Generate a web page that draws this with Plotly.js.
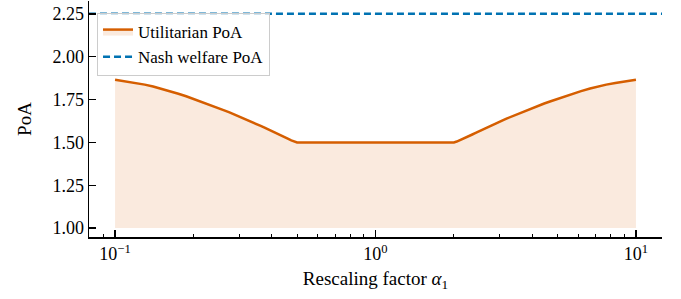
<!DOCTYPE html>
<html>
<head>
<meta charset="utf-8">
<script src="https://cdn.plot.ly/plotly-3.0.1.min.js"></script>
<style>html,body{margin:0;padding:0;background:#fff;}#chart{width:681px;height:299px;}</style>
</head>
<body>
<div id="chart"></div>
<script>
// Rescaling factor alpha_1 (log axis)
var alpha = [0.1, 0.11, 0.12, 0.13, 0.14, 0.15, 0.1625, 0.175, 0.1875, 0.2, 0.2125, 0.225, 0.2375, 0.25, 0.2625, 0.275, 0.2875, 0.3, 0.3125, 0.325, 0.3375, 0.35, 0.3625, 0.375, 0.3875, 0.4, 0.4125, 0.425, 0.4375, 0.45, 0.4625, 0.475, 0.4875, 0.5, 1, 2, 2.051, 2.105, 2.162, 2.222, 2.286, 2.353, 2.424, 2.5, 2.581, 2.667, 2.759, 2.857, 2.963, 3.077, 3.2, 3.333, 3.478, 3.636, 3.81, 4, 4.211, 4.444, 4.706, 5, 5.333, 5.714, 6.154, 6.667, 7.143, 7.692, 8.333, 9.091, 10];
// Utilitarian PoA
var utilPoA = [1.866, 1.857, 1.847, 1.837, 1.826, 1.814, 1.799, 1.784, 1.769, 1.754, 1.740, 1.727, 1.713, 1.700, 1.687, 1.675, 1.663, 1.651, 1.640, 1.629, 1.618, 1.607, 1.596, 1.586, 1.575, 1.565, 1.555, 1.546, 1.537, 1.528, 1.520, 1.512, 1.505, 1.500, 1.500, 1.500, 1.505, 1.512, 1.520, 1.528, 1.537, 1.546, 1.555, 1.565, 1.575, 1.586, 1.596, 1.607, 1.618, 1.629, 1.640, 1.651, 1.663, 1.675, 1.687, 1.700, 1.713, 1.727, 1.740, 1.754, 1.769, 1.784, 1.799, 1.814, 1.826, 1.837, 1.847, 1.857, 1.866];
// Lower bound of the shaded area
var fillBase = 1.0;
// Nash welfare PoA (horizontal line across the axes)
var nashPoA = 2.25;
var nashX = [0.0794, 12.59];
var yTicks = [1.00, 1.25, 1.50, 1.75, 2.00, 2.25];
var yTickText = ["1.00", "1.25", "1.50", "1.75", "2.00", "2.25"];
var xTicks = [0.1, 1, 10];
var xTickText = ["10<sup>\u22121</sup>", "10<sup>0</sup>", "10<sup>1</sup>"];

var ORANGE = "#d55e00", BLUE = "#0072b2";
var FONT = "Liberation Serif";

var traces = [
  {x: alpha, y: alpha.map(function(){return fillBase;}), mode: "lines", line: {width: 0, color: "rgba(0,0,0,0)"}, showlegend: false, hoverinfo: "skip"},
  {x: alpha, y: utilPoA, mode: "lines", fill: "tonexty", fillcolor: "rgba(213,94,0,0.13)", line: {color: ORANGE, width: 2.5}, name: "Utilitarian PoA"},
  {x: nashX, y: nashX.map(function(){return nashPoA;}), mode: "lines", line: {color: BLUE, width: 2.5, dash: "7px,4px"}, name: "Nash welfare PoA"}
];

var layout = {
  width: 681, height: 299,
  margin: {l: 89, r: 19, t: 1, b: 62},
  paper_bgcolor: "#fff", plot_bgcolor: "#fff",
  font: {family: FONT, size: 18, color: "#000"},
  showlegend: true,
  legend: {x: 0.014, y: 0.949, xanchor: "left", yanchor: "top", traceorder: "normal", bgcolor: "rgba(255,255,255,0.8)", bordercolor: "#cccccc", borderwidth: 1, font: {family: FONT, size: 17}, tracegroupgap: 0, itemwidth: 30},
  xaxis: {
    type: "log", range: [-1.1, 1.1],
    tickvals: xTicks, ticktext: xTickText,
    ticks: "inside", ticklen: 7, tickwidth: 1.3, tickcolor: "#000",
    showline: true, linecolor: "#000", linewidth: 1.5,
    showgrid: false, zeroline: false,
    minor: {ticks: "inside", ticklen: 3.5, tickwidth: 1, tickcolor: "#000", dtick: "D1", showgrid: false},
    tickfont: {family: FONT, size: 18},
    title: {text: "Rescaling factor <i>\u03b1</i><sub>1</sub>", font: {family: FONT, size: 19}, standoff: 8}
  },
  yaxis: {
    range: [0.948, 2.325],
    tickvals: yTicks, ticktext: yTickText,
    ticks: "inside", ticklen: 7, tickwidth: 1.3, tickcolor: "#000",
    showline: true, linecolor: "#000", linewidth: 1.5,
    showgrid: false, zeroline: false,
    tickfont: {family: FONT, size: 18},
    title: {text: "PoA", font: {family: FONT, size: 19}, standoff: 16}
  }
};

Plotly.newPlot("chart", traces, layout, {displayModeBar: false, staticPlot: true});
</script>
</body>
</html>
